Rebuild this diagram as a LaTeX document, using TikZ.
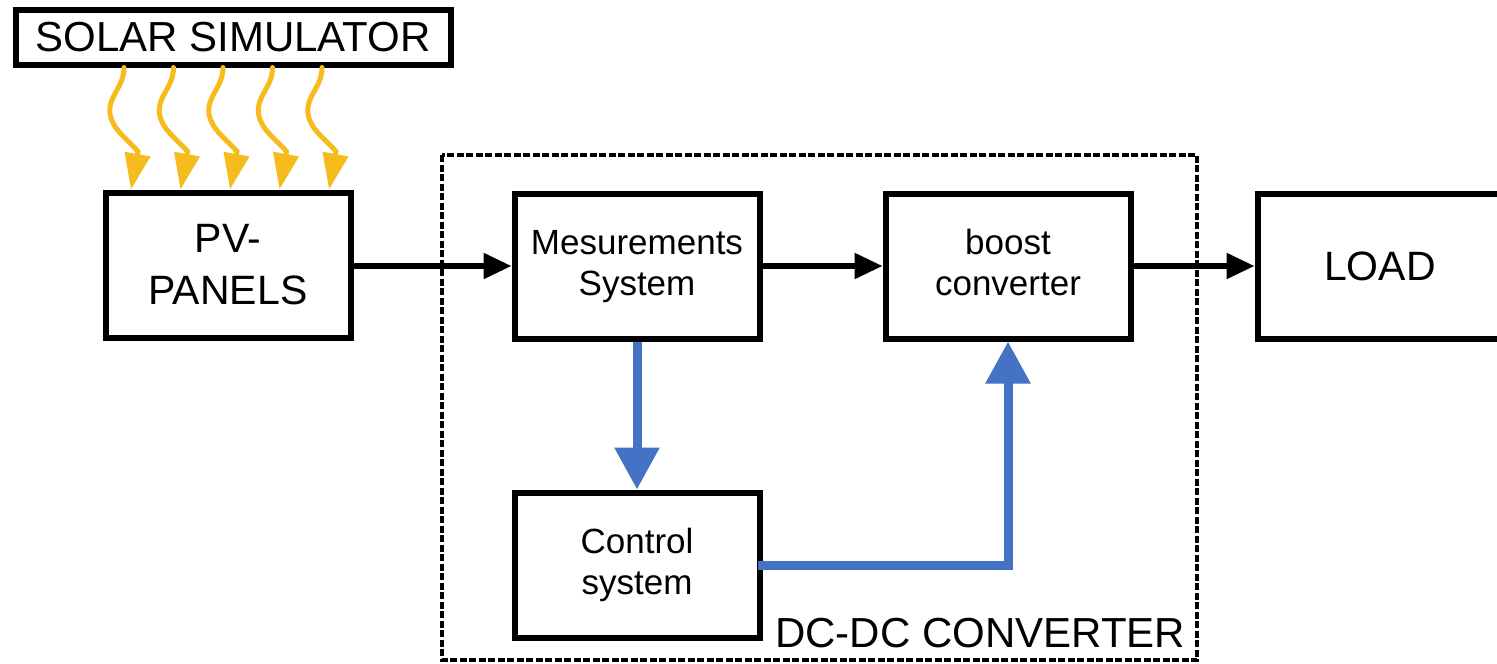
\documentclass[tikz,border=0pt]{standalone}
\usepackage{fontspec}
\setmainfont{Liberation Sans}
\usetikzlibrary{arrows.meta,calc}
\definecolor{sunyellow}{RGB}{246,188,30}
\definecolor{ctrlblue}{RGB}{68,114,196}
\newcommand{\twolines}[2]{\rule{0pt}{26pt}#1\\#2\rule[-8pt]{0pt}{8pt}}
\tikzset{
  blockbox/.style={draw=black, line width=6pt, minimum width=245pt, minimum height=145pt,
    inner sep=0pt, align=center, font=\fontsize{35}{41}\selectfont},
  bigtext/.style={font=\fontsize{41}{52}\selectfont},
  flowarrow/.style={draw=black, line width=5.5pt, -{Triangle[length=28pt,width=25pt]}},
  ctrlarrow/.style={draw=ctrlblue, line width=9pt, -{Triangle[length=42pt,width=43pt]}},
  sunray/.style={draw=sunyellow, line width=5pt, line cap=round, -{Triangle[length=36pt,width=25pt]}},
  dashframe/.style={draw=black, line width=4.5pt, dash pattern=on 7pt off 2.5pt}
}
\begin{document}
\begin{tikzpicture}[x=1pt,y=-1pt]
\fill[white] (0,0) rectangle (1497,664);
\clip (0,0) rectangle (1497,664);

% dashed DC-DC converter frame
\draw[dashframe] (442,155) rectangle (1197,660);
\node[anchor=base west, inner sep=0pt, font=\fontsize{42}{50}\selectfont] (dclabel) at (775,647) {DC-DC CONVERTER};

% blocks
\node[draw=black, line width=6pt, minimum width=435pt, minimum height=55pt, inner sep=0pt,
      font=\fontsize{42}{50}\selectfont] (sim) at (233,37) {SOLAR SIMULATOR};
\node[blockbox, bigtext] (pv) at (228,265) {PV-\\PANELS};
\node[blockbox] (meas) at (637,266) {\twolines{Mesurements}{System}};
\node[blockbox] (boost) at (1008,266) {\twolines{boost}{converter}};
\node[blockbox, font=\fontsize{41}{48}\selectfont] (load) at (1380,266) {LOAD};
\node[blockbox] (ctrl) at (637,565) {\twolines{Control}{system}};

% sun rays
\foreach \a/\b in {111.5/28.5, 161/78, 210.5/127.5, 260/177, 309.5/226.5}{
  \coordinate (s) at ([xshift=\a pt]sim.south west);
  \coordinate (t) at ([xshift=\b pt]pv.north west);
  \draw[sunray] (s) .. controls ($(s)+(0,20)$) and ($(s)+(-16,28)$) .. ($(s)+(-14,46)$)
     .. controls ($(s)+(-12,62)$) and ($(s)+(4,72)$) .. ($(s)+(14,84)$) -- (t);
}

% power flow
\draw[flowarrow] (pv.east |- meas.west) -- (meas.west);
\draw[flowarrow] (meas.east) -- (boost.west);
\draw[flowarrow] (boost.east) -- (load.west);

% control flow
\draw[ctrlarrow] (meas.south) -- (ctrl.north);
\draw[ctrlarrow] ([xshift=-5pt]ctrl.east) -| (boost.south);
\end{tikzpicture}
\end{document}
